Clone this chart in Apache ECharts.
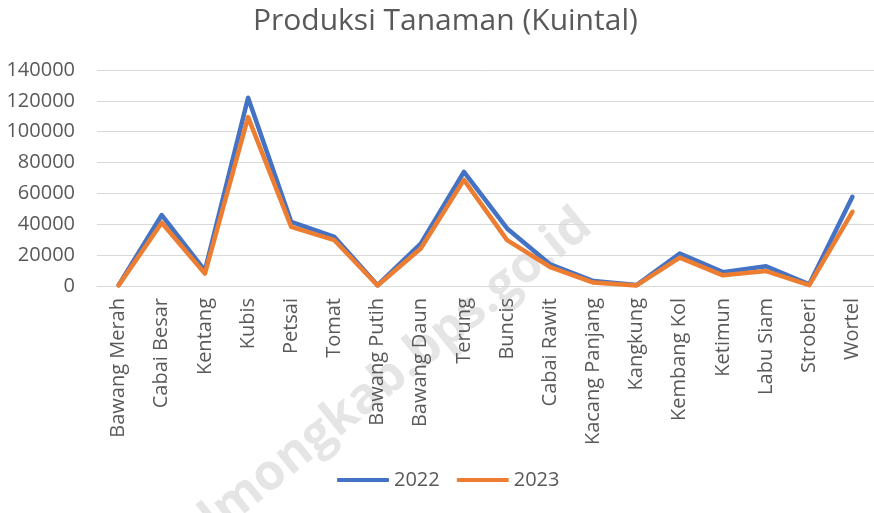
<!DOCTYPE html>
<html>
<head>
<meta charset="utf-8">
<script src="https://cdn.jsdelivr.net/npm/echarts@6/dist/echarts.min.js"></script>
<style>
  html, body { margin: 0; padding: 0; background: #fff; }
  #chart { width: 874px; height: 513px; }
</style>
</head>
<body>
<div id="chart"></div>
<script>
// data
var categories = ['Bawang Merah', 'Cabai Besar', 'Kentang', 'Kubis', 'Petsai', 'Tomat',
    'Bawang Putih', 'Bawang Daun', 'Terung', 'Buncis', 'Cabai Rawit', 'Kacang Panjang',
    'Kangkung', 'Kembang Kol', 'Ketimun', 'Labu Siam', 'Stroberi', 'Wortel'];
var data2022 = [600, 46000, 10000, 122000, 41500, 31800, 500, 27500, 74000, 37300,
    14000, 3200, 600, 21000, 9000, 12800, 1100, 57800];
var data2023 = [400, 41000, 8000, 109500, 38300, 29700, 300, 24300, 68800, 29700,
    12300, 2200, 400, 18400, 6900, 9700, 500, 48100];
var yTicks = [0, 20000, 40000, 60000, 80000, 100000, 120000, 140000];

var chart = echarts.init(document.getElementById('chart'));

var textColor = '#595959';
var font = '"Open Sans", "Noto Sans", sans-serif';

var option = {
    backgroundColor: '#fff',
    title: {
        text: 'Produksi Tanaman (Kuintal)',
        left: 248,
        top: 1,
        textStyle: { color: textColor, fontSize: 30, fontWeight: 'normal', fontFamily: font }
    },
    legend: {
        data: ['2022', '2023'],
        bottom: 18,
        left: 332,
        itemWidth: 52,
        itemHeight: 4,
        itemGap: 17,
        icon: 'roundRect',
        textStyle: { color: textColor, fontSize: 20, fontFamily: font }
    },
    grid: {
        left: 97,
        right: 0,
        top: 70,
        bottom: 227
    },
    graphic: [{
        // faint site watermark behind the chart
        type: 'text',
        z: -1,
        silent: true,
        x: 372,
        y: 392,
        rotation: 39 * Math.PI / 180,
        style: {
            text: 'bolmongkab.bps.go.id',
            x: 0, y: 0,
            textAlign: 'center',
            textVerticalAlign: 'middle',
            fill: 'rgba(190,190,190,0.4)',
            font: 'bold 50px "Open Sans", sans-serif'
        }
    }],
    xAxis: {
        type: 'category',
        data: categories,
        boundaryGap: true,
        axisLine: { show: true, lineStyle: { color: '#d9d9d9', width: 1 } },
        axisTick: { show: false },
        axisLabel: {
            rotate: 90,
            interval: 0,
            margin: 12,
            color: textColor,
            fontSize: 20,
            fontFamily: font
        }
    },
    yAxis: {
        type: 'value',
        min: yTicks[0],
        max: yTicks[yTicks.length - 1],
        interval: 20000,
        axisLine: { show: false },
        axisTick: { show: false },
        splitLine: { lineStyle: { color: '#d9d9d9', width: 1 } },
        axisLabel: {
            margin: 22,
            color: textColor,
            fontSize: 20,
            fontFamily: font,
            formatter: function (v) { return String(v); }
        }
    },
    series: [{
        name: '2022',
        type: 'line',
        data: data2022,
        showSymbol: false,
        symbol: 'none',
        itemStyle: { color: '#4472C4' },
        lineStyle: { color: '#4472C4', width: 4.5, cap: 'round', join: 'round' }
    }, {
        name: '2023',
        type: 'line',
        data: data2023,
        showSymbol: false,
        symbol: 'none',
        itemStyle: { color: '#ED7D31' },
        lineStyle: { color: '#ED7D31', width: 4.5, cap: 'round', join: 'round' }
    }]
};

chart.setOption(option);
</script>
</body>
</html>
